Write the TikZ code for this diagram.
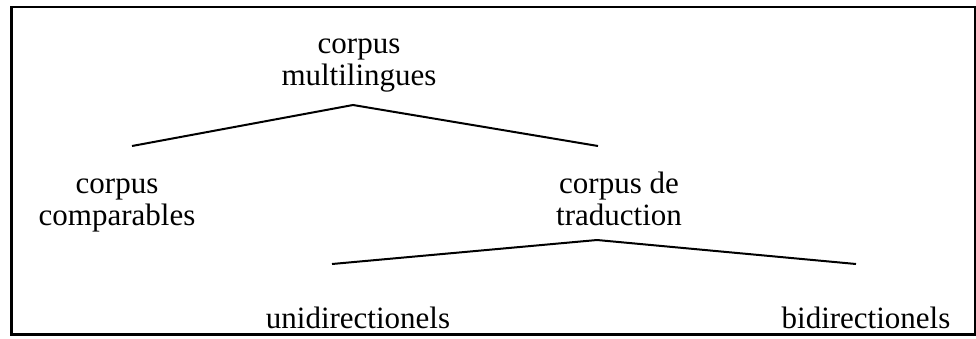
\documentclass[tikz,border=0pt]{standalone}
\usepackage{fontspec}
\setmainfont{Liberation Serif}
\begin{document}
\begin{tikzpicture}[x=1pt,y=-1pt,
  lbl/.style={font=\fontsize{31}{32}\selectfont, align=center, inner sep=0pt, anchor=base},
  branch/.style={line width=2pt},
  frame/.style={line width=2.5pt}]
\useasboundingbox (0,0) rectangle (976,338);
\draw[frame] (11.5,7) rectangle (975,334.5);
\node[lbl] (root) at (359,85) {corpus\\multilingues};
\node[lbl] (comp) at (117,225) {corpus\\comparables};
\node[lbl] (trad) at (619,225) {corpus de\\traduction};
\node[lbl] (uni) at (358,328) {unidirectionels};
\node[lbl] (bi) at (866,328) {bidirectionels};
\coordinate (a1) at (353,105);
\coordinate (l1) at (132,146);
\coordinate (r1) at (598,146);
\coordinate (a2) at (597,240);
\coordinate (l2) at (332,264);
\coordinate (r2) at (856,264);
\draw[branch] (l1) -- (a1) -- (r1);
\draw[branch] (l2) -- (a2) -- (r2);
\end{tikzpicture}
\end{document}
